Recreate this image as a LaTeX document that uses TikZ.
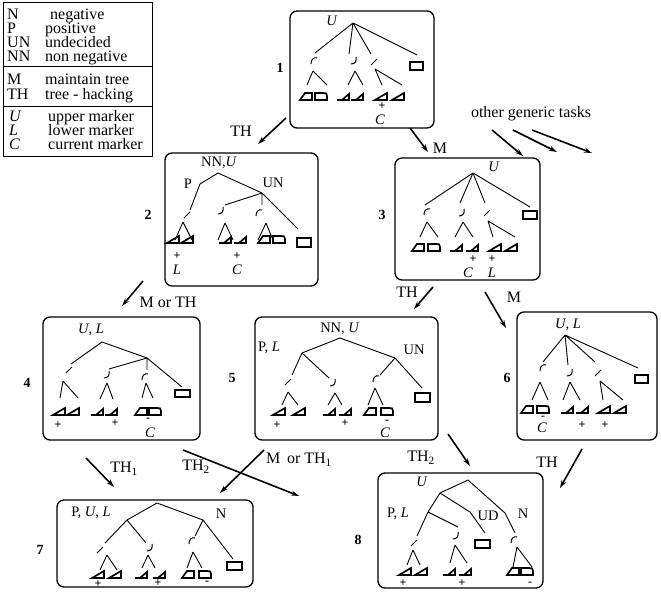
\documentclass[tikz,border=0pt]{standalone}
\usepackage{fontspec}
\setmainfont{Liberation Serif}
\usetikzlibrary{arrows.meta}
\tikzset{
 frame/.style={line width=1.3pt, rounded corners=7pt},
 tl/.style={line width=0.9pt},
 leaf/.style={line width=1.7pt, line join=miter},
 sq/.style={line width=1.9pt},
 mk/.style={line width=1pt},
 arr/.style={line width=1.6pt, -{Stealth[length=8pt,width=5pt]}},
 lbl/.style={inner sep=0pt, font=\fontsize{16}{16}\selectfont},
 leg/.style={lbl, anchor=base west, text height=10pt, text depth=3pt},
 tlab/.style={inner sep=0pt, font=\fontsize{14.5}{14.5}\selectfont},
 sgn/.style={inner sep=0pt, text height=6pt, text depth=0pt, font=\fontsize{12}{12}\selectfont\bfseries},
 num/.style={inner sep=0pt, font=\fontsize{14}{14}\selectfont\bfseries},
}
\newcommand\lfAa[2]{\draw[leaf] (#1,#2) -- ++(12,0) -- ++(0,-7) -- cycle;}
\newcommand\lfAb[2]{\draw[leaf] (#1,#2) -- ++(12,0) -- ++(0,-7) -- cycle;}
\newcommand\lfBa[2]{\draw[leaf] (#1,#2) -- ++(12,0) -- ++(0,-6) -- ++(-7,6);}
\newcommand\lfBb[2]{\draw[leaf] (#1,#2) -- ++(12,0) -- ++(0,-6) -- ++(-7,6);}
\newcommand\lfCa[2]{\draw[leaf] (#1,#2) -- ++(12,0) -- ++(0,-7) -- ++(-7,0) -- cycle;}
\newcommand\lfCb[2]{\begin{scope}[shift={(#1,#2)}]\draw[leaf] (0,0) -- (12,0) -- (12,-4) .. controls (12,-7) and (11,-7) .. (8,-7) -- (0,-7) -- cycle;\end{scope}}
\newcommand\grp[9]{%
 \draw[tl] (#2,#3) -- (#4,#6) (#2,#3) -- (#5,#6);
 \csname lf#1a\endcsname{#7}{#9}
 \csname lf#1b\endcsname{#8}{#9}}
\newcommand\mkO[2]{\draw[mk] ({#1+3},{#2-3}) .. controls ({#1-1},{#2-4}) and ({#1-3},{#2-1}) .. ({#1-3},{#2+3});}
\newcommand\mkC[2]{\draw[mk] ({#1+2},{#2-4}) .. controls ({#1+3},{#2}) and ({#1+1},{#2+3}) .. ({#1-3},{#2+3});}
\newcommand\mkS[2]{\draw[mk] ({#1+3},{#2-3}) -- ({#1-3},{#2+3});}
\begin{document}
\begin{tikzpicture}[x=1pt,y=-1pt]
\useasboundingbox (0,0) rectangle (661,596);
% ---------- legend
\draw[line width=1pt] (3,3) rectangle (152,157);
\draw[line width=1pt] (3,67) -- (152,67);
\draw[line width=1pt] (3,107) -- (152,107);
\node[leg] (lg1) at (7,20) {N};
\node[leg] (lg1t) at (50,20) {negative};
\node[leg] (lg2) at (7,34) {P};
\node[leg] (lg2t) at (45,34) {positive};
\node[leg] (lg3) at (7,48) {UN};
\node[leg] (lg3t) at (45,48) {undecided};
\node[leg] (lg4) at (7,62) {NN};
\node[leg] (lg4t) at (45,62) {non negative};
\node[leg] (lg5) at (7,85) {M};
\node[leg] (lg5t) at (45,85) {maintain tree};
\node[leg] (lg6) at (7,100) {TH};
\node[leg] (lg6t) at (45,100) {tree - hacking};
\node[leg] (lg7) at (9,122) {\textit{U}};
\node[leg] (lg7t) at (48,122) {upper marker};
\node[leg] (lg8) at (9,136) {\textit{L}};
\node[leg] (lg8t) at (48,136) {lower marker};
\node[leg] (lg9) at (9,150) {\textit{C}};
\node[leg] (lg9t) at (48,150) {current marker};
% ---------- box 1
\draw[frame] (290,11) rectangle (434,128);
\node[num] (n1) at (280,68) {1};
\node[tlab] (u1) at (332,21) {\textit{U}};
\draw[tl] (353,23) -- (315,53) (353,23) -- (349,54) (353,23) -- (371,54) (353,23) -- (417,55);
\mkO{314}{61} \mkC{354}{61} \mkS{374}{62}
\draw[sq] (410,62) rectangle (423,70);
\grp{C}{313}{71}{307}{327}{85}{300}{315}{100}
\grp{B}{355}{71}{348}{363}{85}{337}{351}{100}
\grp{A}{375}{69}{382}{402}{85}{375}{392}{100}
\node[sgn] (p1) at (382,107) {+};
\node[tlab] (c1) at (380,120) {\textit{C}};
% ---------- box 2
\draw[frame] (165,153) rectangle (318,286);
\node[num] (n2) at (148,215) {2};
\node[tlab] (l2a) at (219,163) {NN,\textit{U}};
\node[tlab] (l2b) at (188,184) {P};
\node[tlab] (l2c) at (273,183) {UN};
\draw[tl] (200,184) -- (218,173) -- (262,193);
\draw[tl] (200,184) -- (190,210) (262,193) -- (225,205) (262,193) -- (262,205) (262,193) -- (298,229);
\mkS{187}{215} \mkC{221}{211} \mkO{259}{213}
\draw[sq] (297,238) rectangle (311,247);
\grp{A}{183}{222}{175}{192}{240}{167}{181}{243}
\grp{B}{225}{223}{218}{233}{240}{219}{234}{243}
\grp{C}{266}{223}{258}{273}{240}{258}{273}{243}
\node[sgn] (p2a) at (177,256) {+};
\node[tlab] (l2L) at (177,270) {\textit{L}};
\node[sgn] (p2b) at (237,256) {+};
\node[tlab] (l2C) at (237,270) {\textit{C}};
% ---------- box 3
\draw[frame] (395,158) rectangle (540,280);
\node[num] (n3) at (382,215) {3};
\node[tlab] (u3) at (494,167) {\textit{U}};
\draw[tl] (473,173) -- (425,205) (473,173) -- (460,203) (473,173) -- (485,203) (473,173) -- (530,207);
\mkO{427}{212} \mkC{462}{213} \mkS{487}{213}
\draw[sq] (523,211) rectangle (537,219);
\grp{C}{427}{222}{420}{438}{237}{412}{428}{251}
\grp{B}{463}{222}{455}{473}{237}{450}{466}{251}
\grp{A}{488}{221}{493}{515}{237}{489}{505}{251}
\node[sgn] (p3a) at (473,259) {+};
\node[sgn] (p3b) at (492,259) {+};
\node[tlab] (c3) at (468,273) {\textit{C}};
\node[tlab] (l3) at (492,273) {\textit{L}};
% ---------- box 4
\draw[frame] (43,317) rectangle (200,440);
\node[num] (n4) at (27,383) {4};
\node[tlab] (l4) at (91,330) {\textit{U}, \textit{L}};
\draw[tl] (71,364) -- (102,342) -- (147,358);
\draw[tl] (147,358) -- (109,369) (147,358) -- (147,370) (147,358) -- (182,387);
\mkS{69}{370} \mkC{107}{375} \mkO{145}{377}
\draw[sq] (175,390) rectangle (190,397);
\grp{A}{63}{381}{60}{78}{398}{53}{67}{415}
\grp{B}{107}{383}{100}{113}{399}{91}{105}{415}
\grp{C}{146}{383}{142}{153}{398}{135}{149}{415}
\node[sgn] (p4a) at (58,425) {+};
\node[sgn] (p4b) at (115,423) {+};
\node[sgn] (m4) at (148,418) {-};
\node[tlab] (c4) at (150,433) {\textit{C}};
% ---------- box 5
\draw[frame] (255,317) rectangle (438,440);
\node[num] (n5) at (232,378) {5};
\node[tlab] (l5a) at (340,329) {NN, \textit{U}};
\node[tlab] (l5b) at (269,348) {P, \textit{L}};
\node[tlab] (l5c) at (414,350) {UN};
\draw[tl] (302,353) -- (340,338) -- (395,358);
\draw[tl] (302,353) -- (292,375) (302,353) -- (329,378) (395,358) -- (380,375) (395,358) -- (422,388);
\mkS{288}{382} \mkC{333}{383} \mkO{376}{379}
\draw[sq] (415,393) rectangle (430,402);
\grp{A}{288}{392}{282}{298}{405}{273}{293}{415}
\grp{B}{335}{393}{328}{342}{405}{323}{339}{415}
\grp{C}{375}{388}{368}{383}{405}{364}{381}{415}
\node[sgn] (p5a) at (277,425) {+};
\node[sgn] (p5b) at (345,423) {+};
\node[sgn] (m5) at (387,420) {-};
\node[tlab] (c5) at (385,433) {\textit{C}};
% ---------- box 6
\draw[frame] (517,312) rectangle (657,440);
\node[num] (n6) at (507,378) {6};
\node[tlab] (l6) at (568,325) {\textit{U}, \textit{L}};
\draw[tl] (565,335) -- (543,362) (565,335) -- (568,365) (565,335) -- (595,362) (565,335) -- (638,368);
\mkO{543}{368} \mkC{570}{373} \mkS{598}{373}
\draw[sq] (635,375) rectangle (648,383);
\grp{C}{540}{382}{532}{548}{400}{521}{537}{413}
\grp{B}{570}{382}{563}{580}{400}{561}{576}{413}
\grp{A}{600}{381}{603}{623}{400}{598}{614}{413}
\node[sgn] (m6) at (543,416) {-};
\node[tlab] (c6) at (542,428) {\textit{C}};
\node[sgn] (p6a) at (582,425) {+};
\node[sgn] (p6b) at (605,425) {+};
% ---------- box 7
\draw[frame] (57,500) rectangle (253,587);
\node[num] (n7) at (40,550) {7};
\node[tlab] (l7a) at (91,513) {P, \textit{U}, \textit{L}};
\node[tlab] (l7b) at (221,514) {N};
\draw[tl] (127,520) -- (157,503) -- (203,520);
\draw[tl] (127,520) -- (105,543) (127,520) -- (146,543) (203,520) -- (195,536) (203,520) -- (233,559);
\mkS{100}{550} \mkC{150}{548} \mkO{192}{541}
\draw[sq] (227,562) rectangle (242,570);
\grp{A}{107}{555}{100}{117}{570}{92}{109}{578}
\grp{B}{148}{555}{142}{155}{568}{135}{153}{578}
\grp{C}{193}{552}{187}{202}{568}{182}{199}{578}
\node[sgn] (p7a) at (98,584) {+};
\node[sgn] (p7b) at (158,583) {+};
\node[sgn] (m7) at (207,581) {-};
% ---------- box 8
\draw[frame] (378,473) rectangle (543,588);
\node[num] (n8) at (358,540) {8};
\node[tlab] (l8a) at (422,482) {\textit{U}};
\node[tlab] (l8b) at (398,514) {P, \textit{L}};
\node[tlab] (l8c) at (488,516) {UD};
\node[tlab] (l8d) at (523,514) {N};
\draw[tl] (440,493) -- (468,480) -- (505,513) -- (515,533);
\draw[tl] (428,512) -- (440,493) -- (470,512) -- (485,533);
\draw[tl] (428,512) -- (417,536) (428,512) -- (458,527);
\mkO{514}{540} \mkS{414}{543} \mkC{456}{536}
\draw[sq] (475,540) rectangle (490,548);
\grp{A}{413}{550}{407}{420}{565}{399}{415}{575}
\grp{B}{455}{545}{450}{467}{563}{443}{459}{575}
\grp{C}{517}{547}{513}{532}{567}{507}{521}{575}
\node[sgn] (p8a) at (403,583) {+};
\node[sgn] (p8b) at (462,583) {+};
\node[sgn] (m8) at (530,582) {-};
% ---------- arrows
\coordinate (a12s) at (286,118); \coordinate (a12e) at (258,144);
\draw[arr] (a12s) -- (a12e);
\node[lbl] (t12) at (241,131) {TH};
\coordinate (a13s) at (410,128); \coordinate (a13e) at (428,152);
\draw[arr] (a13s) -- (a13e);
\node[lbl] (t13) at (440,148) {M};
\node[lbl] (tg) at (531,114) {other generic tasks};
\coordinate (g1s) at (492,130); \coordinate (g1e) at (523,156);
\coordinate (g2s) at (513,130); \coordinate (g2e) at (557,152);
\coordinate (g3s) at (532,130); \coordinate (g3e) at (592,153);
\draw[arr] (g1s) -- (g1e);
\draw[arr] (g2s) -- (g2e);
\draw[arr] (g3s) -- (g3e);
\coordinate (a24s) at (143,281); \coordinate (a24e) at (122,306);
\draw[arr] (a24s) -- (a24e);
\node[lbl] (t24) at (168,302) {M or TH};
\coordinate (a35s) at (433,287); \coordinate (a35e) at (414,309);
\draw[arr] (a35s) -- (a35e);
\node[lbl] (t35) at (407,292) {TH};
\coordinate (a36s) at (485,292); \coordinate (a36e) at (506,328);
\draw[arr] (a36s) -- (a36e);
\node[lbl] (t36) at (514,297) {M};
\coordinate (a47s) at (86,458); \coordinate (a47e) at (114,487);
\draw[arr] (a47s) -- (a47e);
\node[lbl] (t47) at (124,469) {TH\textsubscript{1}};
\coordinate (a48s) at (183,450); \coordinate (a48e) at (299,496);
\draw[arr] (a48s) -- (a48e);
\node[lbl] (t48) at (196,467) {TH\textsubscript{2}};
\coordinate (a57s) at (264,450); \coordinate (a57e) at (220,493);
\draw[arr] (a57s) -- (a57e);
\node[lbl] (t57) at (299,460) {M\, or TH\textsubscript{1}};
\coordinate (a58s) at (448,434); \coordinate (a58e) at (470,466);
\draw[arr] (a58s) -- (a58e);
\node[lbl] (t58) at (421,458) {TH\textsubscript{2}};
\coordinate (a68s) at (582,449); \coordinate (a68e) at (560,488);
\draw[arr] (a68s) -- (a68e);
\node[lbl] (t68) at (547,462) {TH};
\end{tikzpicture}
\end{document}
